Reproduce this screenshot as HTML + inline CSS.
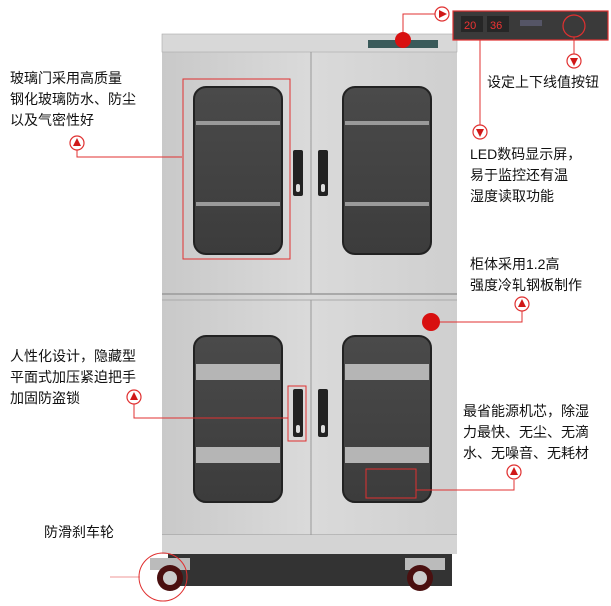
<!DOCTYPE html>
<html><head><meta charset="utf-8"><style>
body{margin:0;background:#fff;width:611px;height:606px;overflow:hidden;position:relative;font-family:"Liberation Sans","Noto Sans CJK SC",sans-serif}
.t{position:absolute;font-size:14px;line-height:21px;color:#111;white-space:nowrap}
</style></head><body>
<svg width="611" height="606" style="position:absolute;left:0;top:0">
<defs>
<linearGradient id="body" x1="0" x2="1"><stop offset="0" stop-color="#c9c9c9"/><stop offset=".5" stop-color="#dadada"/><stop offset="1" stop-color="#cfcfcf"/></linearGradient>
<linearGradient id="win" x1="0" y1="0" x2="0" y2="1"><stop offset="0" stop-color="#4a4a4a"/><stop offset="1" stop-color="#3c3c3c"/></linearGradient>
<g id="mk"><circle r="7" fill="#fff" stroke="#e03030" stroke-width="1.2"/><path d="M0,-5 L4,3 L-4,3Z" fill="#d01818"/></g>
<g id="mkd"><circle r="7" fill="#fff" stroke="#e03030" stroke-width="1.2"/><path d="M0,5 L4,-3 L-4,-3Z" fill="#d01818"/></g>
</defs>
<rect x="168" y="552" width="284" height="34" fill="#333"/>
<rect x="162" y="34" width="295" height="520" fill="url(#body)"/>
<rect x="162" y="34" width="295" height="18" fill="#d8d8d8" stroke="#aaa" stroke-width=".6"/>
<rect x="368" y="40" width="70" height="8" fill="#3a5a5a"/>
<line x1="162" y1="294" x2="457" y2="294" stroke="#999" stroke-width="1.5"/>
<line x1="162" y1="300" x2="457" y2="300" stroke="#aaa" stroke-width="1"/>
<line x1="311" y1="52" x2="311" y2="294" stroke="#999"/>
<line x1="311" y1="300" x2="311" y2="535" stroke="#999"/>
<line x1="162" y1="535" x2="457" y2="535" stroke="#999"/>
<rect x="162" y="535" width="295" height="19" fill="#d4d4d4"/>
<rect x="194" y="87" width="88" height="167" rx="12" fill="url(#win)" stroke="#222" stroke-width="2"/>
<rect x="343" y="87" width="88" height="167" rx="12" fill="url(#win)" stroke="#222" stroke-width="2"/>
<g fill="#9a9a9a"><rect x="196" y="121" width="84" height="4"/><rect x="196" y="202" width="84" height="4"/><rect x="345" y="121" width="84" height="4"/><rect x="345" y="202" width="84" height="4"/></g>
<rect x="194" y="336" width="88" height="166" rx="12" fill="url(#win)" stroke="#222" stroke-width="2"/>
<rect x="343" y="336" width="88" height="166" rx="12" fill="url(#win)" stroke="#222" stroke-width="2"/>
<g fill="#b5b5b5"><rect x="196" y="364" width="84" height="16"/><rect x="196" y="447" width="84" height="16"/><rect x="345" y="364" width="84" height="16"/><rect x="345" y="447" width="84" height="16"/></g>
<g fill="#222"><rect x="293" y="150" width="10" height="46" rx="2"/><rect x="318" y="150" width="10" height="46" rx="2"/><rect x="293" y="389" width="10" height="48" rx="2"/><rect x="318" y="389" width="10" height="48" rx="2"/></g>
<g fill="#ddd"><rect x="296" y="184" width="4" height="8" rx="2"/><rect x="321" y="184" width="4" height="8" rx="2"/><rect x="296" y="425" width="4" height="8" rx="2"/><rect x="321" y="425" width="4" height="8" rx="2"/></g>
<g><rect x="150" y="558" width="40" height="12" fill="#bbb"/><circle cx="170" cy="578" r="13" fill="#4a1010"/><circle cx="170" cy="578" r="7" fill="#ccc"/>
<rect x="405" y="558" width="40" height="12" fill="#bbb"/><circle cx="420" cy="578" r="13" fill="#4a1010"/><circle cx="420" cy="578" r="7" fill="#ccc"/></g>
<rect x="453" y="11" width="155" height="29" fill="#3a3a3a" stroke="#e03030" stroke-width="1.2"/>
<rect x="461" y="16" width="22" height="16" fill="#262626"/><text x="464" y="29" font-size="11" fill="#e33">20</text>
<rect x="487" y="16" width="22" height="16" fill="#262626"/><text x="490" y="29" font-size="11" fill="#e33">36</text>
<rect x="520" y="20" width="22" height="6" fill="#556"/>
<circle cx="574" cy="26" r="11" fill="none" stroke="#e03030" stroke-width="1.2"/>
<g stroke="#e03030" stroke-width="1" fill="none">
<polyline points="403,40 403,14 440,14"/>
<line x1="480" y1="40" x2="480" y2="125"/>
<line x1="574" y1="37" x2="574" y2="55"/>
<rect x="183" y="79" width="107" height="180"/>
<polyline points="182,157 77,157 77,150"/>
<rect x="288" y="386" width="18" height="55"/>
<polyline points="288,418 134,418 134,404"/>
<polyline points="432,322 522,322 522,310"/>
<rect x="366" y="469" width="50" height="29"/>
<polyline points="416,490 514,490 514,480"/>
<circle cx="163" cy="577" r="24"/>
<line x1="140" y1="577" x2="110" y2="577" opacity=".5"/>
</g>
<circle cx="403" cy="40" r="8" fill="#d81010"/>
<circle cx="431" cy="322" r="9" fill="#d81010"/>
<g transform="translate(442,14) rotate(90)"><use href="#mk"/></g>
<use href="#mkd" x="480" y="132"/>
<use href="#mkd" x="574" y="61"/>
<use href="#mk" x="77" y="143"/>
<use href="#mk" x="134" y="397"/>
<use href="#mk" x="522" y="304"/>
<use href="#mk" x="514" y="472"/>
</svg>
<div class="t" style="left:10px;top:68px">玻璃门采用高质量<br>钢化玻璃防水、防尘<br>以及气密性好</div>
<div class="t" style="left:487px;top:72px">设定上下线值按钮</div>
<div class="t" style="left:470px;top:144px">LED数码显示屏，<br>易于监控还有温<br>湿度读取功能</div>
<div class="t" style="left:470px;top:254px">柜体采用1.2高<br>强度冷轧钢板制作</div>
<div class="t" style="left:10px;top:346px">人性化设计，隐藏型<br>平面式加压紧迫把手<br>加固防盗锁</div>
<div class="t" style="left:463px;top:401px">最省能源机芯，除湿<br>力最快、无尘、无滴<br>水、无噪音、无耗材</div>
<div class="t" style="left:44px;top:522px">防滑刹车轮</div>
</body></html>
